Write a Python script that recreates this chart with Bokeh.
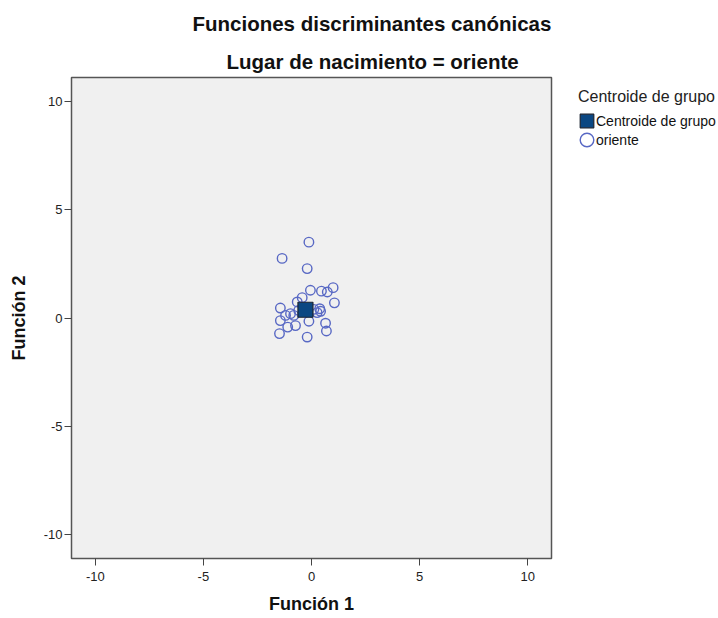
from bokeh.plotting import figure
from bokeh.models import Range1d, Title, Legend, LegendItem, FixedTicker, ColumnDataSource
from bokeh.embed import file_html
from bokeh.resources import INLINE

# ---- data ----
title_main = "Funciones discriminantes canónicas"
title_sub = "Lugar de nacimiento = oriente"
group_label = "oriente"
centroid_label = "Centroide de grupo"
x_label = "Función 1"
y_label = "Función 2"
tick_values = [-10, -5, 0, 5, 10]
tick_labels = {-10: "-10", -5: "-5", 0: "0", 5: "5", 10: "10"}

func1 = [-0.12, -1.36, -0.20, -0.05, 0.46, 0.73, 1.00, 1.06, -0.43, -0.66,
         -1.44, 0.38, 0.42, 0.26, -1.44, -1.20, -0.97, -0.82, -0.12, -0.74,
         -1.10, 0.65, 0.69, -1.48, -0.20, -0.59, 0.11]
func2 = [3.50, 2.75, 2.28, 1.28, 1.24, 1.20, 1.40, 0.70, 0.94, 0.74,
         0.46, 0.43, 0.31, 0.25, -0.12, 0.12, 0.20, 0.12, -0.15, -0.35,
         -0.42, -0.24, -0.60, -0.72, -0.88, 0.35, 0.40]
centroid_x = [-0.28]
centroid_y = [0.38]

FONT = "Liberation Sans"

p = figure(frame_width=480, frame_height=481, output_backend="svg",
           toolbar_location=None,
           x_range=Range1d(-11.1, 11.1), y_range=Range1d(-11.1, 11.1),
           min_border_left=71, min_border_top=77, min_border_right=166,
           min_border_bottom=59)

p.background_fill_color = "#f0f0f0"
p.border_fill_color = "white"
p.outline_line_color = "#555555"
p.outline_line_width = 1.5
p.xgrid.visible = False
p.ygrid.visible = False

for ax in (p.xaxis[0], p.yaxis[0]):
    ax.ticker = FixedTicker(ticks=tick_values)
    ax.major_label_overrides = tick_labels
    ax.axis_line_color = None
    ax.major_tick_in = 0
    ax.major_tick_out = 7
    ax.major_tick_line_color = "#444444"
    ax.minor_tick_line_color = None
    ax.major_label_text_font = FONT
    ax.major_label_text_font_size = "13px"
    ax.major_label_text_color = "#222222"
    ax.axis_label_text_font = FONT
    ax.axis_label_text_font_style = "bold"
    ax.axis_label_text_font_size = "18px"
    ax.axis_label_text_color = "#111111"

p.xaxis[0].axis_label = x_label
p.yaxis[0].axis_label = y_label
p.xaxis[0].major_label_standoff = 6
p.xaxis[0].axis_label_standoff = 10
p.yaxis[0].major_label_standoff = 2
p.yaxis[0].axis_label_standoff = 12

src = ColumnDataSource(dict(x=func1, y=func2))
r_pts = p.ellipse(x="x", y="y", width=9.5, height=9.5, width_units="screen",
                  height_units="screen", source=src, fill_color=None,
                  line_color="#5868c4", line_width=1.4)
csrc = ColumnDataSource(dict(x=centroid_x, y=centroid_y))
r_cen = p.rect(x="x", y="y", width=15, height=15, width_units="screen",
               height_units="screen", source=csrc,
               fill_color="#0b4782", line_color="#1c2533", line_width=1.2)

legend = Legend(items=[LegendItem(label=centroid_label, renderers=[r_cen]),
                       LegendItem(label=group_label, renderers=[r_pts])],
                location=(27, 410))
legend.title = centroid_label
legend.title_text_font = FONT
legend.title_text_font_size = "16px"
legend.title_text_font_style = "normal"
legend.title_text_color = "#222222"
legend.title_standoff = 6
legend.label_text_font = FONT
legend.label_text_font_size = "14px"
legend.label_text_color = "#111111"
legend.glyph_width = 17
legend.glyph_height = 17
legend.label_height = 17
legend.label_standoff = 1
legend.spacing = 2
legend.padding = 4
legend.margin = 0
legend.border_line_color = None
legend.background_fill_alpha = 0
p.add_layout(legend, "right")

# main title is the outer one, sub-title sits next to the frame
p.title.text = title_main
p.title.align = "left"
p.title.offset = 121
p.title.text_font = FONT
p.title.text_font_size = "20.5px"
p.title.text_font_style = "bold"
p.title.text_color = "#111111"
p.title.standoff = 17
sub = Title(text=title_sub, align="left", offset=155, text_font=FONT,
            text_font_size="20.5px", text_font_style="bold",
            text_color="#111111", standoff=9)
p.add_layout(sub, "above")

open("out.html", "w").write(file_html(p, INLINE))
